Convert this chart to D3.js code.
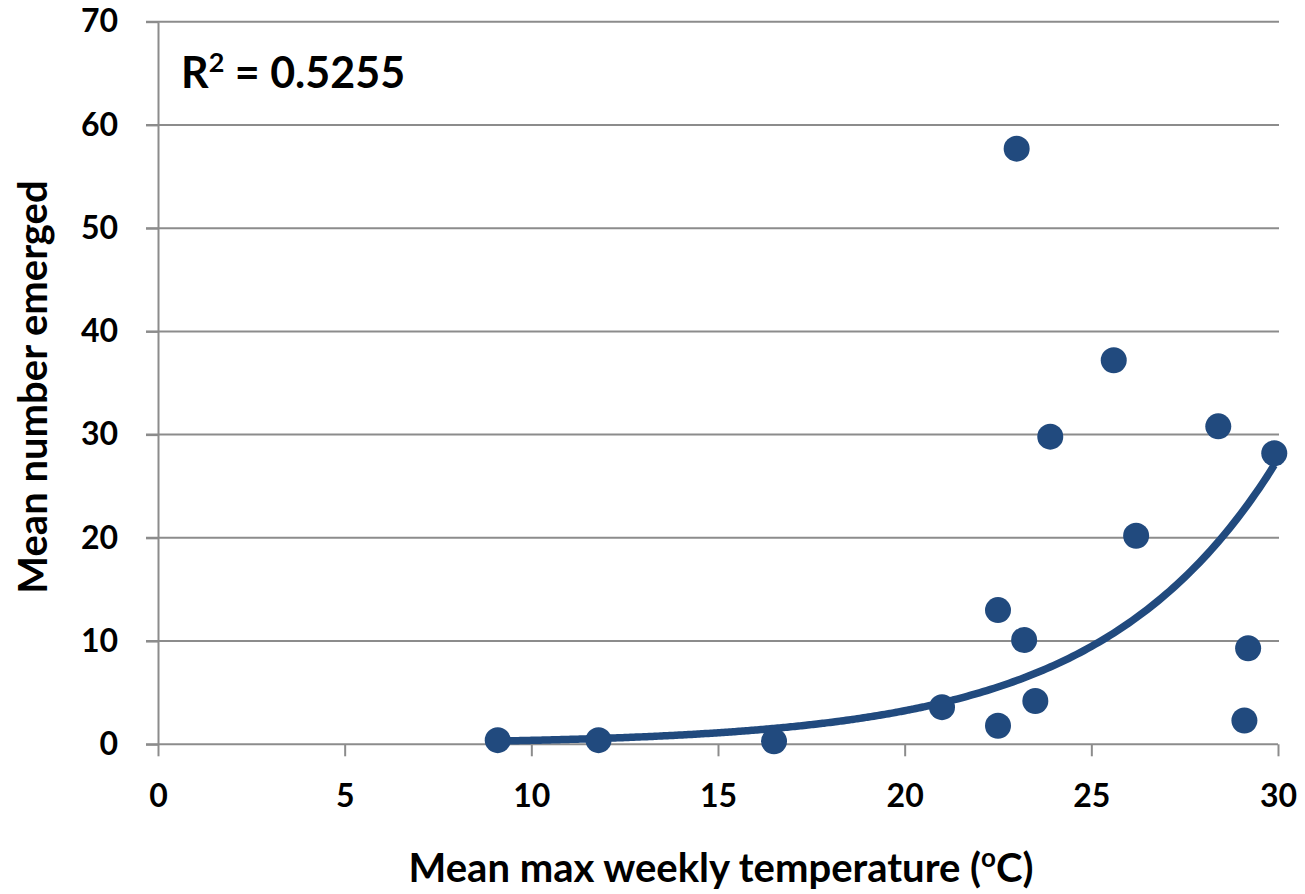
<!DOCTYPE html>
<html><head><meta charset="utf-8">
<script src="https://cdn.jsdelivr.net/npm/d3@7"></script>
<style>body{margin:0;background:#fff}svg{display:block}</style>
</head><body>
<svg id="c" width="1305" height="894"></svg>
<script>
const tempX = [9.1, 11.8, 16.5, 21.0, 22.5, 22.5, 23.2, 23.5, 23.0, 23.9, 25.6, 26.2, 28.4, 29.9, 29.2, 29.1];
const emerged = [0.4, 0.4, 0.3, 3.6, 13.0, 1.8, 10.1, 4.2, 57.7, 29.8, 37.2, 20.2, 30.8, 28.2, 9.3, 2.3];
const xTicks = [0, 5, 10, 15, 20, 25, 30];
const yTicks = [0, 10, 20, 30, 40, 50, 60, 70];
const trendA = 0.045, trendB = 0.214; // y = a*e^(b x)
const trendRange = [9.1, 29.9];
const r2Label = "0.5255";

const svg = d3.select("#c");
const font = "Lato, 'Open Sans', sans-serif";
const color = "#214a7e";
const x = d3.scaleLinear().domain([0, 30]).range([158, 1278]);
const y = d3.scaleLinear().domain([0, 70]).range([744.3, 21.7]);

// gridlines
svg.append("g").selectAll("line").data(yTicks.filter(d => d > 0)).join("line")
  .attr("x1", 146).attr("x2", 1279).attr("y1", d => y(d)).attr("y2", d => y(d))
  .attr("stroke", "#8c8c8c").attr("stroke-width", 2);

// y axis
const ya = svg.append("g").attr("transform", `translate(${x(0)},0)`)
  .call(d3.axisLeft(y).tickValues(yTicks).tickSize(12).tickSizeOuter(0).tickPadding(28));
ya.select(".domain").attr("stroke", "#8c8c8c").attr("stroke-width", 2);
ya.selectAll(".tick line").attr("stroke", "#8c8c8c").attr("stroke-width", 2);
ya.selectAll("text").attr("font-family", font).attr("font-weight", "bold").attr("font-size", 32).attr("fill", "#000");

// x axis
const xa = svg.append("g").attr("transform", `translate(0,${y(0)})`)
  .call(d3.axisBottom(x).tickValues(xTicks).tickSize(12).tickSizeOuter(0).tickPadding(28));
xa.select(".domain").attr("stroke", "#8c8c8c").attr("stroke-width", 2).attr("d", `M${x(0)-12},0H${x(30)}`);
xa.selectAll(".tick line").attr("stroke", "#8c8c8c").attr("stroke-width", 2);
xa.selectAll("text").attr("font-family", font).attr("font-weight", "bold").attr("font-size", 32).attr("fill", "#000");

// trendline
const tr = d3.range(trendRange[0], trendRange[1] + 0.001, 0.1).map(v => [v, trendA * Math.exp(trendB * v)]);
svg.append("path").datum(tr)
  .attr("d", d3.line().x(d => x(d[0])).y(d => y(d[1])).curve(d3.curveMonotoneX))
  .attr("fill", "none").attr("stroke", color).attr("stroke-width", 7.5);

// points
svg.append("g").selectAll("circle").data(tempX.map((v, i) => [v, emerged[i]])).join("circle")
  .attr("cx", d => x(d[0])).attr("cy", d => y(d[1])).attr("r", 13).attr("fill", color);

// R² label
const rt = svg.append("text").attr("x", 181).attr("y", 88)
  .attr("font-family", font).attr("font-weight", "bold").attr("font-size", 43).attr("fill", "#000");
rt.append("tspan").text("R");
rt.append("tspan").text("2").attr("font-size", 27).attr("dy", -16);
rt.append("tspan").text(" = " + r2Label).attr("dy", 16);

// axis titles
const xt = svg.append("text").attr("x", 721).attr("y", 882).attr("text-anchor", "middle")
  .attr("font-family", font).attr("font-weight", "bold").attr("font-size", 40).attr("fill", "#000");
xt.append("tspan").text("Mean max weekly temperature (");
xt.append("tspan").text("o").attr("font-size", 26).attr("dy", -15);
xt.append("tspan").text("C)").attr("dy", 15);

svg.append("text").attr("transform", "translate(47,387) rotate(-90)").attr("text-anchor", "middle")
  .attr("font-family", font).attr("font-weight", "bold").attr("font-size", 40).attr("fill", "#000")
  .text("Mean number emerged");
</script>
</body></html>
